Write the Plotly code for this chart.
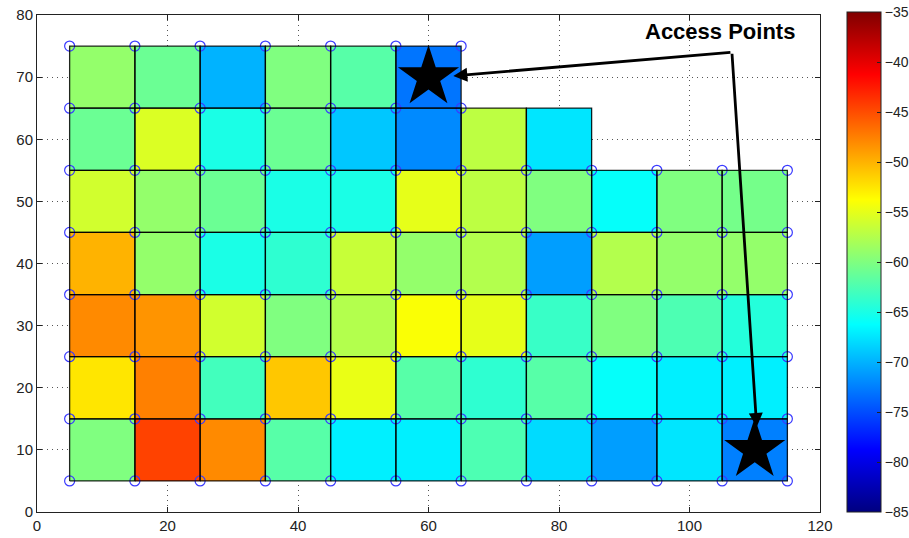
import plotly.graph_objects as go

# ---- data ----
x_centers = [10, 20, 30, 40, 50, 60, 70, 80, 90, 100, 110]
y_centers = [10, 20, 30, 40, 50, 60, 70]
rssi_y10 = [-60, -44.5, -48, -62, -67, -67, -62.5, -68, -71, -67.5, -72.5]
rssi_y20 = [-52.5, -47.5, -63, -51, -54.8, -62, -64, -62, -66, -67, -67]
rssi_y30 = [-48, -48.5, -56, -60, -57.5, -54, -55, -63.5, -60, -62.5, -64.5]
rssi_y40 = [-50, -59, -65, -64, -56.5, -59, -57.5, -71, -57.5, -59, -59]
rssi_y50 = [-56, -59, -61, -65, -65, -55, -57, -60, -66, -60, -60.5]
rssi_y60 = [-61, -55.5, -65, -61, -69, -72, -57, -67.5, None, None, None]
rssi_y70 = [-59, -61, -70, -60, -62, -73, None, None, None, None, None]
z_rows = [rssi_y10, rssi_y20, rssi_y30, rssi_y40, rssi_y50, rssi_y60, rssi_y70]

# measurement points (blue circles)
pts_x_full = [5, 15, 25, 35, 45, 55, 65, 75, 85, 95, 105, 115]
pts_x_top = [5, 15, 25, 35, 45, 55, 65]
pts_y_full = [5, 15, 25, 35, 45, 55]
pts_y_top = [65, 75]

# access points
ap_x = [60, 110]
ap_y = [70, 10]

colorbar_ticks = [-85, -80, -75, -70, -65, -60, -55, -50, -45, -40, -35]
x_ticks = [0, 20, 40, 60, 80, 100, 120]
y_ticks = [0, 10, 20, 30, 40, 50, 60, 70, 80]

jet = [
    [0.0, "rgb(0,0,128)"],
    [0.125, "rgb(0,0,255)"],
    [0.375, "rgb(0,255,255)"],
    [0.625, "rgb(255,255,0)"],
    [0.875, "rgb(255,0,0)"],
    [1.0, "rgb(128,0,0)"],
]

fig = go.Figure()

fig.add_trace(go.Heatmap(
    x=x_centers, y=y_centers, z=z_rows,
    zmin=-85, zmax=-35, colorscale=jet, hoverongaps=False,
    colorbar=dict(
        tickvals=colorbar_ticks, ticks="inside", ticklen=4, tickcolor="#222",
        outlinecolor="#222", outlinewidth=1,
        thickness=34, thicknessmode="pixels",
        len=500, lenmode="pixels",
        x=1.0345, xanchor="left", y=1.006, yanchor="top",
        xpad=0, ypad=0,
        ticklabeloverflow="allow",
        tickfont=dict(size=14, color="#222", family="Liberation Sans"),
    ),
))

# circles
cx, cy = [], []
for yy in pts_y_full:
    for xx in pts_x_full:
        cx.append(xx); cy.append(yy)
for yy in pts_y_top:
    for xx in pts_x_top:
        cx.append(xx); cy.append(yy)
fig.add_trace(go.Scatter(
    x=cx, y=cy, mode="markers",
    marker=dict(symbol="circle-open", size=10, color="#3a3aff", line=dict(width=1.2)),
    hoverinfo="skip",
))

# cell edges
ex, ey = [], []
for j, row in enumerate(z_rows):
    for i, v in enumerate(row):
        if v is None:
            continue
        xc, yc = x_centers[i], y_centers[j]
        ex += [xc - 5, xc + 5, xc + 5, xc - 5, xc - 5, None]
        ey += [yc - 5, yc - 5, yc + 5, yc + 5, yc - 5, None]
fig.add_trace(go.Scatter(
    x=ex, y=ey, mode="lines", line=dict(color="rgba(0,0,0,0.85)", width=1.3),
    hoverinfo="skip",
))

# stars
fig.add_trace(go.Scatter(
    x=ap_x, y=ap_y, mode="markers",
    marker=dict(symbol="star", size=46, color="black"),
    hoverinfo="skip",
))

# annotations
kink_x, kink_y = 106.5, 74.0
fig.add_annotation(x=104.7, y=77.3, xref="x", yref="y", text="<b>Access Points</b>",
                   showarrow=False, font=dict(size=22, color="black", family="Liberation Sans"))
for tx, ty in [(63.8, 70.2), (110.3, 13.7)]:
    fig.add_annotation(x=tx, y=ty, ax=kink_x, ay=kink_y, xref="x", yref="y",
                       axref="x", ayref="y", text="", showarrow=True,
                       arrowhead=2, arrowsize=1.0, arrowwidth=2.8, arrowcolor="black",
                       standoff=0)

axis_common = dict(
    showline=True, linecolor="#222", linewidth=1, mirror="ticks",
    ticks="inside", ticklen=5, tickcolor="#222",
    showgrid=True, gridcolor="#555", griddash="1px,4px", gridwidth=1.2,
    zeroline=False, ticklabeloverflow="allow",
    tickfont=dict(size=15, color="#222", family="Liberation Sans"),
)
fig.update_xaxes(range=[0, 120], tickvals=x_ticks, **axis_common)
fig.update_yaxes(range=[0, 80], tickvals=y_ticks, **axis_common)

fig.update_layout(
    width=909, height=538,
    margin=dict(l=37, r=89, t=15, b=26, autoexpand=False),
    plot_bgcolor="white", paper_bgcolor="white",
    showlegend=False,
)

fig.write_html("out.html", config={"displayModeBar": False},
               post_script="document.body.style.margin='0';")
